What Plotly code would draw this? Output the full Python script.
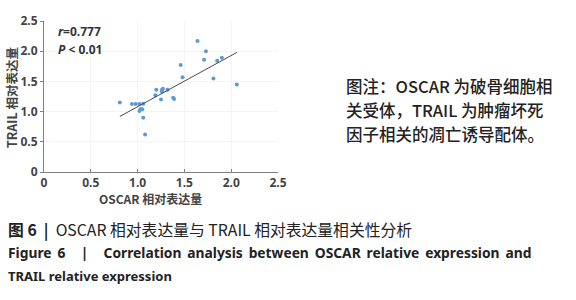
import numpy as np
import plotly.graph_objects as go

oscar = [0.81, 0.94, 0.98, 1.02, 1.06, 1.03, 1.05, 1.02, 1.06, 1.08, 1.19, 1.20, 1.25,
         1.26, 1.27, 1.26, 1.32, 1.38, 1.39, 1.46, 1.48, 1.64, 1.73, 1.71, 1.81, 1.85, 1.90, 2.06]
trail = [1.15, 1.125, 1.125, 1.125, 1.13, 1.04, 1.04, 1.01, 0.90, 0.62, 1.27, 1.36, 1.20,
         1.36, 1.38, 1.33, 1.36, 1.23, 1.21, 1.77, 1.57, 2.17, 2.00, 1.86, 1.55, 1.84, 1.89, 1.45]
x_ticks = [0, 0.5, 1.0, 1.5, 2.0, 2.5]
x_tick_labels = ["0", "0.5", "1.0", "1.5", "2.0", "2.5"]
y_ticks = [0, 0.5, 1.0, 1.5, 2.0, 2.5]
y_tick_labels = ["0", "0.5", "1.0", "1.5", "2.0", "2.5"]
fit_range = [0.81, 2.06]

slope, intercept = np.polyfit(oscar, trail, 1)
fx = np.array(fit_range)
fy = slope * fx + intercept

FONT = "Noto Sans CJK SC, Noto Sans, sans-serif"
W, H = 576, 300
L, R, T, B = 44, 298, 15, 128
PW, PH = W - L - R, H - T - B


def px(x):
    return (x - L) / PW


def py(y):
    return (H - B - y) / PH


fig = go.Figure()
fig.add_trace(go.Scatter(x=oscar, y=trail, mode="markers",
                         marker=dict(color="#5b9bd5", size=4), showlegend=False))
fig.add_trace(go.Scatter(x=fx, y=fy, mode="lines",
                         line=dict(color="#4a4a4a", width=1), showlegend=False))

tickfont = dict(size=12, color="#444444", family="Noto Sans, sans-serif", weight="bold")
fig.update_layout(
    width=W, height=H,
    margin=dict(l=L, r=R, t=T, b=B),
    plot_bgcolor="white", paper_bgcolor="white",
    font=dict(family=FONT, color="#333333", size=11),
    xaxis=dict(range=[0, 2.5], tickvals=x_ticks, ticktext=x_tick_labels,
               showgrid=True, gridcolor="#f4f4f4", zeroline=False, showline=True,
               linecolor="#808080", linewidth=1, ticks="inside", ticklen=3,
               tickcolor="#808080", tickfont=tickfont),
    yaxis=dict(range=[0, 2.5], tickvals=y_ticks, ticktext=y_tick_labels,
               showgrid=True, gridcolor="#f4f4f4", zeroline=False, showline=True,
               linecolor="#808080", linewidth=1, ticks="outside", ticklen=3,
               tickcolor="#808080", tickfont=tickfont),
)


def text(x, y, t, size, color="#333333", anchor="left", angle=0, weight="normal",
         family=FONT):
    fig.add_annotation(x=px(x), y=py(y), xref="paper", yref="paper", text=t,
                       showarrow=False, xanchor=anchor, yanchor="middle", textangle=angle,
                       font=dict(size=size, color=color, family=family, weight=weight))


text(56, 26, "<i>r</i>=0.777", 12, weight="bold", family="Noto Sans, sans-serif")
text(56, 45, "<i>P</i> < 0.01", 12, weight="bold", family="Noto Sans, sans-serif")

# axis titles
text(150, 200, "OSCAR 相对表达量", 12, "#444444", anchor="center", weight="bold")
text(12, 95, "TRAIL 相对表达量", 12.5, "#444444", anchor="center", angle=-90, weight="bold")

# note text
notes = ["图注：OSCAR 为破骨细胞相", "关受体，TRAIL 为肿瘤坏死", "因子相关的凋亡诱导配体。"]
for i, t in enumerate(notes):
    text(344, 83 + i * 25, t, 16.5, "#222222", weight=500)

S = "\u2009 "
captions = [
    (6, 232, "<b>图 6  |</b>  OSCAR 相对表达量与 TRAIL 相对表达量相关性分析", 15.8, "normal", FONT),
    (6, 256, "<b>" + "Figure 6 \u00a0 | \u00a0 Correlation analysis between OSCAR relative expression and".replace(" ", S) + "</b>",
     13.8, "bold", "Noto Sans, sans-serif"),
    (6, 280, "<b>TRAIL relative expression</b>", 13, "bold", "Noto Sans, sans-serif"),
]
for x, y, t, s, w, f in captions:
    text(x, y, t, s, "#222222", weight=w, family=f)

fig.write_html("out.html", config={"displayModeBar": False},
               post_script="document.body.style.margin='0';")
